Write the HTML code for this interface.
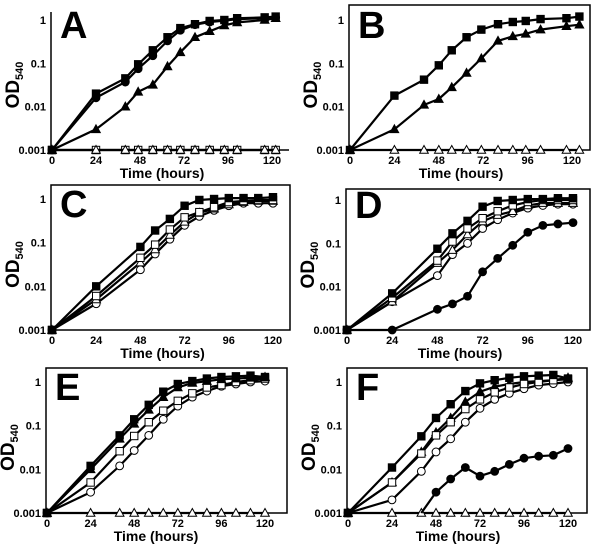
<!DOCTYPE html>
<html><head><meta charset="utf-8"><style>
body{margin:0;background:#fff;}
svg{display:block;font-family:"Liberation Sans",Arial,sans-serif;font-weight:bold;}
</style></head><body>
<svg id="chart" width="600" height="546" viewBox="0 0 600 546" xmlns="http://www.w3.org/2000/svg"></svg>
<script>
// ---- data ----
const tA = [0,24,40,47,55,63,70,78,86,94,101,116,122];
const tB = [0,24,40,48,55,63,71,80,88,95,103,117,124];
const tCD = [0,24,48,56,64,72,80,88,96,104,112,120];
const tEF = [0,24,40,48,56,64,72,80,88,96,104,112,120];
const yTicks = [1,0.1,0.01,0.001];
const yTickLabels = ["1","0.1","0.01","0.001"];
const xTicks = [0,24,48,72,96,120];

const A_sqF = [0.001,0.02,0.045,0.095,0.2,0.4,0.65,0.8,0.95,1.0,1.1,1.15,1.2];
const A_cirF = [0.001,0.016,0.037,0.075,0.15,0.33,0.58,0.78,0.9,0.97,1.05,1.1,1.15];
const A_triF = [0.001,0.003,0.01,0.022,0.032,0.085,0.18,0.4,0.55,0.75,0.88,1.0,1.1];
const A_flat = [0.001,0.001,0.001,0.001,0.001,0.001,0.001,0.001,0.001,0.001,0.001,0.001,0.001];

const B_sqF = [0.001,0.018,0.042,0.09,0.2,0.4,0.6,0.8,0.9,0.95,1.05,1.1,1.2];
const B_triF = [0.001,0.003,0.011,0.015,0.028,0.06,0.13,0.33,0.42,0.48,0.6,0.72,0.78];
const B_flat = [0.001,0.001,0.001,0.001,0.001,0.001,0.001,0.001,0.001,0.001,0.001,0.001,0.001];

const C_sqF = [0.001,0.01,0.08,0.19,0.35,0.7,0.95,1.0,1.05,1.05,1.05,1.1];
const C_sqO = [0.001,0.006,0.045,0.09,0.2,0.38,0.5,0.65,0.85,0.9,0.95,0.95];
const C_triO = [0.001,0.005,0.035,0.07,0.15,0.3,0.48,0.6,0.75,0.85,0.9,0.9];
const C_cirO = [0.001,0.004,0.024,0.055,0.12,0.25,0.4,0.55,0.7,0.8,0.8,0.8];

const D_sqF = [0.001,0.007,0.075,0.17,0.33,0.7,0.95,1.0,1.05,1.05,1.1,1.1];
const D_sqO = [0.001,0.0055,0.04,0.11,0.22,0.38,0.55,0.75,0.9,1.0,1.0,1.0];
const D_triO = [0.001,0.0045,0.035,0.07,0.16,0.32,0.45,0.55,0.75,0.85,0.85,0.85];
const D_cirO = [0.001,0.0045,0.018,0.055,0.1,0.22,0.35,0.5,0.65,0.75,0.8,0.8];
const D_cirF = [0.001,0.001,0.003,0.004,0.006,0.022,0.045,0.09,0.18,0.26,0.28,0.3];

const E_sqF = [0.001,0.012,0.06,0.14,0.3,0.6,0.9,1.05,1.2,1.3,1.35,1.4,1.3];
const E_triF = [0.001,0.01,0.05,0.11,0.23,0.45,0.75,0.95,1.05,1.15,1.2,1.25,1.3];
const E_sqO = [0.001,0.005,0.026,0.058,0.12,0.22,0.37,0.55,0.75,0.85,1.0,1.1,1.2];
const E_cirO = [0.001,0.003,0.012,0.027,0.06,0.14,0.28,0.45,0.62,0.8,0.9,1.0,1.05];
const E_flat = [0.001,0.001,0.001,0.001,0.001,0.001,0.001,0.001,0.001,0.001,0.001,0.001,0.001];

const F_sqF = [0.001,0.011,0.057,0.15,0.31,0.62,0.93,1.1,1.25,1.35,1.4,1.45,1.2];
const F_triF = [0.001,0.005,0.025,0.07,0.15,0.35,0.6,0.78,0.9,1.0,1.05,1.1,1.25];
const F_sqO = [0.001,0.005,0.023,0.06,0.12,0.24,0.4,0.58,0.75,0.9,1.0,1.1,1.15];
const F_cirO = [0.001,0.002,0.009,0.025,0.05,0.12,0.25,0.4,0.55,0.7,0.85,0.92,1.0];
const F_cirF = [null,null,0.001,0.003,0.006,0.011,0.007,0.009,0.013,0.018,0.02,0.021,0.03];
const F_flat = [0.001,0.001,0.001,0.001,0.001,0.001,0.001,0.001,0.001,0.001,0.001,0.001,0.001];

// ---- layout ----
const panels = [
 {id:"A", x0:52,x120:272,y1:20,y001:150,left:51,right:289,top:null,t:tA,
  series:[["flat",A_flat,"sqO"],["flat2",A_flat,"triO"],["tri",A_triF,"triF"],["cir",A_cirF,"cirF"],["sq",A_sqF,"sqF"]]},
 {id:"B", x0:350,x120:572,y1:20,y001:150,left:349,right:590,top:5,t:tB,
  series:[["flat",B_flat,"triO"],["tri",B_triF,"triF"],["sq",B_sqF,"sqF"]]},
 {id:"C", x0:52,x120:273,y1:199,y001:330,left:51,right:290,top:185,t:tCD,
  series:[["cirO",C_cirO,"cirO"],["triO",C_triO,"triO"],["sqO",C_sqO,"sqO"],["sqF",C_sqF,"sqF"]]},
 {id:"D", x0:347,x120:573,y1:200,y001:330,left:346,right:590,top:189,t:tCD,
  series:[["cirF",D_cirF,"cirF"],["cirO",D_cirO,"cirO"],["triO",D_triO,"triO"],["sqO",D_sqO,"sqO"],["sqF",D_sqF,"sqF"]]},
 {id:"E", x0:47,x120:265,y1:382,y001:513,left:46,right:287,top:368,t:tEF,
  series:[["flat",E_flat,"triO"],["cirO",E_cirO,"cirO"],["sqO",E_sqO,"sqO"],["triF",E_triF,"triF"],["sqF",E_sqF,"sqF"]]},
 {id:"F", x0:348,x120:568,y1:382,y001:513,left:347,right:587,top:368,t:tEF,
  series:[["flat",F_flat,"triO"],["cirF",F_cirF,"cirF"],["cirO",F_cirO,"cirO"],["triF",F_triF,"triF"],["sqO",F_sqO,"sqO"],["sqF",F_sqF,"sqF"]]}
];

const NS="http://www.w3.org/2000/svg";
const svg=document.getElementById("chart");
function mk(tag,attrs,parent,text){const e=document.createElementNS(NS,tag);for(const k in attrs)e.setAttribute(k,attrs[k]);if(text!==undefined)e.textContent=text;(parent||svg).appendChild(e);return e;}

panels.forEach(p=>{
  const g=mk("g",{});
  
  
  const xs=h=>p.x0+(p.x120-p.x0)*h/120;
  const ys=v=>p.y001-(p.y001-p.y1)*(Math.log10(v)+3)/3;
  // frame / axes
  if(p.top!==null){
    const fr=mk("rect",{x:p.left,y:p.top,width:p.right-p.left,height:p.y001-p.top,fill:"none",stroke:"#000","stroke-width":1.5},g);
    
    
  } else {
    const ax=mk("path",{d:`M${p.left} ${p.y1-8}V${p.y001}H${p.right}`,fill:"none",stroke:"#000","stroke-width":1.5},g);
    
    
  }
  // y tick labels
  yTicks.forEach((v,i)=>{
    const t=mk("text",{x:p.left-5,y:ys(v)+4,"text-anchor":"end","font-size":"11"},g,yTickLabels[i]);
    
    
  });
  xTicks.forEach(h=>{
    const t=mk("text",{x:xs(h),y:p.y001+14,"text-anchor":"middle","font-size":"11"},g,String(h));
    
    
  });
  const xt=mk("text",{x:(p.x0+p.x120)/2,y:p.y001+28,"text-anchor":"middle","font-size":"14"},g,"Time (hours)");
  
  
  const cy=(p.y1+p.y001)/2, cx=p.left-32;
  const yt=mk("text",{x:cx,y:cy,"text-anchor":"middle","font-size":"19",transform:`rotate(-90 ${cx} ${cy})`},g);
  
  
  mk("tspan",{},yt,"OD");
  mk("tspan",{"font-size":"11",dy:"4"},yt,"540");
  const lt=mk("text",{x:p.left+9,y:p.y1+18,"font-size":"38"},g,p.id);
  
  
  // series
  p.series.forEach(([nm,vals,mkr])=>{
    const sg=mk("g",{},g);
    
    
    let d="";
    vals.forEach((v,i)=>{if(v==null)return;d+=(d?"L":"M")+xs(p.t[i]).toFixed(1)+" "+ys(v).toFixed(1);});
    mk("path",{d,fill:"none",stroke:"#000","stroke-width":2.2},sg);
    vals.forEach((v,i)=>{
      if(v==null)return;
      if(nm==="cirF"&&p.id==="F"&&i===2)return;
      const x=xs(p.t[i]),y=ys(v);
      const fill=mkr.endsWith("F")?"#000":"#fff";
      let m;
      if(mkr.startsWith("sq")) m=mk("rect",{x:x-3.7,y:y-3.7,width:7.4,height:7.4,fill,stroke:"#000","stroke-width":1},sg);
      else if(mkr.startsWith("cir")) m=mk("circle",{cx:x,cy:y,r:3.9,fill,stroke:"#000","stroke-width":1},sg);
      else m=mk("path",{d:`M${x} ${y-4.5}L${x+4.3} ${y+3.3}L${x-4.3} ${y+3.3}Z`,fill,stroke:"#000","stroke-width":1},sg);
      
      
    });
  });
});
</script>
</body></html>
